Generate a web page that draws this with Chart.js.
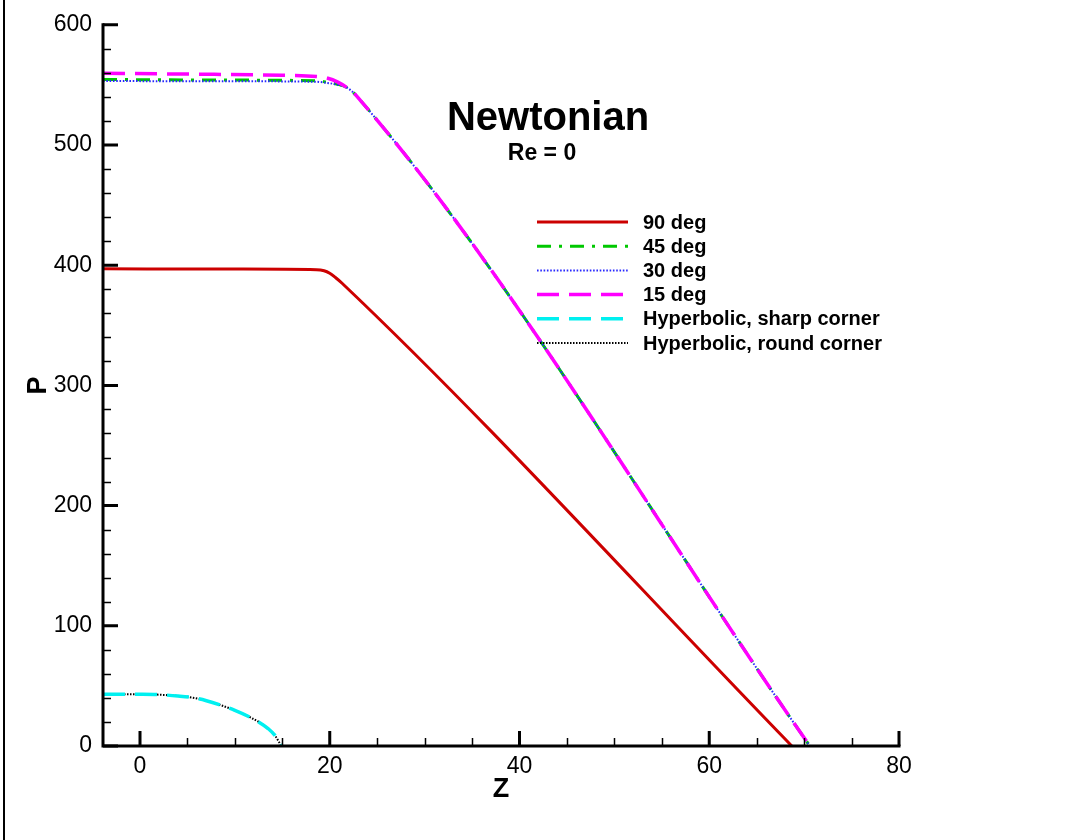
<html>
<head>
    <title>Newtonian</title>
    <script src="https://cdn.jsdelivr.net/npm/chart.js@4.4.1/dist/chart.umd.min.js"></script>
    <style>
        body { margin: 0; background: #fff; }
    </style>
</head>
<body>

<canvas id="myChart" width="1076" height="840"></canvas>

<script type="text/javascript">
// pressure P along the axis Z, one pair of arrays per geometry
var z90 = [-3.9, 10, 18.6, 19.4, 20.0, 20.6, 21.3, 68.7];
var p90 = [397, 396.8, 396.3, 395.4, 393.3, 389.8, 385, 0];

var z45 = [-3.9, 10, 18.5, 19.6, 20.8, 21.8, 22.8, 70.6];
var p45 = [554.5, 554, 553.4, 552.4, 550.6, 547.8, 541.0, 0];

var z30 = [-3.9, 10, 18.5, 19.6, 20.8, 21.8, 22.8, 70.6];
var p30 = [553.2, 553, 552.6, 551.8, 550.2, 547.8, 541.0, 0];

var z15 = [-3.9, 5, 15, 18.6, 19.8, 20.8, 21.8, 22.8, 70.6];
var p15 = [559.6, 559, 558, 557, 555.5, 552.5, 547.8, 541.0, 0];

var zHypSharp = [-3.9, 0, 2, 4, 5.5, 7, 8.5, 10, 11.5, 12.5, 13.5, 14.2, 14.9];
var pHypSharp = [43.1, 43, 42.7, 41.6, 40.3, 37.7, 34.0, 29.6, 24.3, 20.0, 14.5, 9.0, 0];

var zHypRound = [-3.9, 0, 2, 4, 5.5, 7, 8.5, 10, 11.5, 12.5, 13.5, 14.2, 14.9];
var pHypRound = [43.1, 43, 42.7, 41.6, 40.3, 37.7, 34.0, 29.6, 24.3, 20.0, 14.5, 9.0, 0];

var seriesLabels = ['90 deg', '45 deg', '30 deg', '15 deg', 'Hyperbolic, sharp corner', 'Hyperbolic, round corner'];

var xTicks = [0, 20, 40, 60, 80];
var yTicks = [0, 100, 200, 300, 400, 500, 600];

var FONT = "'Liberation Sans', Arial, Helvetica, sans-serif";

function points(zs, ps) {
    var out = [];
    for (var i = 0; i < zs.length; i++) out.push({x: zs[i], y: ps[i]});
    return out;
}

// lower order is painted later, i.e. on top
function series(i, zs, ps, color, width, dash, order) {
    return {
        label: seriesLabels[i],
        data: points(zs, ps),
        showLine: true,
        borderColor: color,
        borderWidth: width,
        borderDash: dash,
        pointRadius: 0,
        cubicInterpolationMode: 'monotone',
        order: order
    };
}

// axis lines, inward ticks, legend and caption
var decorations = {
    id: 'decorations',
    afterDraw: function(chart) {
        var ctx = chart.ctx;
        var a = chart.chartArea;
        var x = chart.scales.x;
        var y = chart.scales.y;
        var v, px, py;
        ctx.save();
        ctx.strokeStyle = '#000';
        ctx.fillStyle = '#000';
        ctx.setLineDash([]);

        // frame on the left edge
        ctx.fillRect(3, 0, 2, 840);

        // minor ticks
        ctx.lineWidth = 1.5;
        ctx.beginPath();
        for (v = 0; v <= 80; v += 5) {
            if (v % 20 == 0) continue;
            px = Math.round(x.getPixelForValue(v)) + 0.5;
            ctx.moveTo(px, a.bottom);
            ctx.lineTo(px, a.bottom - 8);
        }
        for (v = 0; v <= 600; v += 20) {
            if (v % 100 == 0) continue;
            py = Math.round(y.getPixelForValue(v)) + 0.5;
            ctx.moveTo(a.left, py);
            ctx.lineTo(a.left + 8, py);
        }
        ctx.stroke();

        // major ticks
        ctx.lineWidth = 3;
        ctx.beginPath();
        xTicks.forEach(function(t) {
            px = x.getPixelForValue(t);
            ctx.moveTo(px, a.bottom);
            ctx.lineTo(px, a.bottom - 15);
        });
        yTicks.forEach(function(t) {
            py = y.getPixelForValue(t);
            ctx.moveTo(a.left, py);
            ctx.lineTo(a.left + 15, py);
        });
        ctx.stroke();

        // axis lines
        ctx.beginPath();
        ctx.moveTo(a.left, a.top - 1.5);
        ctx.lineTo(a.left, a.bottom + 1.5);
        ctx.moveTo(a.left - 1.5, a.bottom);
        ctx.lineTo(a.right + 1.5, a.bottom);
        ctx.stroke();

        // legend
        ctx.font = 'bold 20px ' + FONT;
        ctx.textBaseline = 'middle';
        ctx.textAlign = 'left';
        chart.data.datasets.forEach(function(ds, i) {
            var ly = 222 + i * 24.2;
            ctx.save();
            ctx.strokeStyle = ds.borderColor;
            ctx.lineWidth = ds.borderWidth;
            ctx.setLineDash(ds.borderDash || []);
            ctx.beginPath();
            ctx.moveTo(537, ly);
            ctx.lineTo(628, ly);
            ctx.stroke();
            ctx.restore();
            ctx.fillText(ds.label, 643, ly + 1);
        });

        // caption
        ctx.textAlign = 'center';
        ctx.textBaseline = 'alphabetic';
        ctx.font = 'bold 40px ' + FONT;
        ctx.fillText('Newtonian', 548, 130);
        ctx.font = 'bold 23px ' + FONT;
        ctx.fillText('Re = 0', 542, 160);

        ctx.restore();
    }
};

var ctx = document.getElementById('myChart');
var chart = new Chart(ctx, {
    type: 'scatter',
    data: {
        datasets: [
            series(0, z90, p90, '#cc0000', 3, [], 0),
            series(1, z45, p45, '#00c800', 3, [14, 8, 3, 8], -1),
            series(2, z30, p30, '#2a2aff', 2, [1.6, 1.7], -2),
            series(3, z15, p15, '#ff00ff', 3.5, [22, 10], -3),
            series(4, zHypSharp, pHypSharp, '#00f0f0', 3.5, [22, 10], -6),
            series(5, zHypRound, pHypRound, '#000000', 2, [1.5, 1.5], -5)
        ]
    },
    options: {
        responsive: false,
        animation: false,
        devicePixelRatio: 1,
        layout: { padding: { top: 22, right: 177, left: 0, bottom: 0 } },
        plugins: {
            legend: { display: false },
            tooltip: { enabled: false }
        },
        scales: {
            x: {
                type: 'linear',
                min: -3.9,
                max: 80,
                afterFit: function(scale) { scale.height = 94; },
                afterBuildTicks: function(scale) {
                    scale.ticks = xTicks.map(function(v) { return {value: v}; });
                },
                grid: { display: false, drawTicks: false },
                border: { display: false },
                ticks: {
                    color: '#000',
                    padding: 7,
                    maxRotation: 0,
                    font: { family: FONT, size: 23 }
                },
                title: {
                    display: true,
                    text: 'Z',
                    color: '#000',
                    font: { family: FONT, size: 27, weight: 'bold' },
                    padding: { top: 0, bottom: 34.5 }
                }
            },
            y: {
                type: 'linear',
                min: 0,
                max: 600,
                afterFit: function(scale) { scale.width = 103; },
                afterBuildTicks: function(scale) {
                    scale.ticks = yTicks.map(function(v) { return {value: v}; });
                },
                grid: { display: false, drawTicks: false },
                border: { display: false },
                ticks: {
                    color: '#000',
                    padding: 11,
                    font: { family: FONT, size: 23 }
                },
                title: {
                    display: true,
                    text: 'P',
                    color: '#000',
                    font: { family: FONT, size: 27, weight: 'bold' },
                    padding: { top: 22, bottom: 0 }
                }
            }
        }
    },
    plugins: [decorations]
});
</script>

</body>
</html>
